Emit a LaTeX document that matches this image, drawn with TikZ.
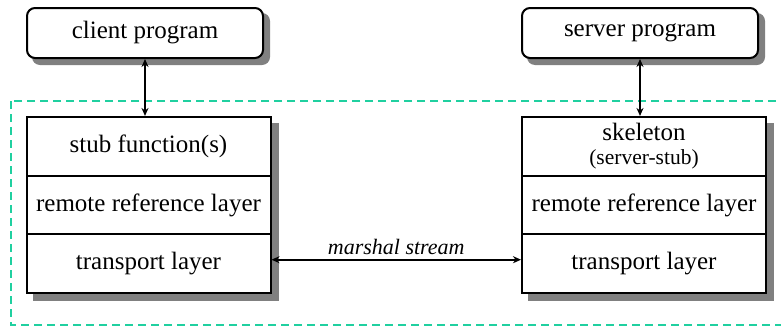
\documentclass[tikz,border=0pt]{standalone}
\usepackage{fontspec}
\setmainfont{Liberation Serif}
\usetikzlibrary{arrows.meta,backgrounds}
\definecolor{dashteal}{RGB}{32,208,160}
\definecolor{shadowgray}{RGB}{128,128,128}
\begin{document}
\begin{tikzpicture}[x=1pt,y=-1pt,
  prog/.style={draw, line width=2pt, rounded corners=8pt, fill=white,
    minimum width=236pt, minimum height=50pt, inner sep=0pt,
    font=\fontsize{25}{30}\selectfont},
  layer/.style={draw, line width=2pt, fill=white, align=center,
    minimum width=244pt, minimum height=58.7pt, inner sep=0pt,
    font=\fontsize{25}{27}\selectfont},
  link/.style={line width=2pt, {Stealth[length=8pt,width=7pt]}-{Stealth[length=8pt,width=7pt]}},
  shadowfill/.style={fill=shadowgray},
  frame/.style={draw=dashteal, line width=2pt, dash pattern=on 8pt off 5pt}]

\useasboundingbox (0,0) rectangle (781,327);

% dashed frame of the middleware, running off the right edge
\begin{scope}
  \clip (0,0) rectangle (781,327);
  \draw[frame] (11,101) rectangle (800,325);
\end{scope}

% application programs
\node[prog] (client) at (145,33) {client program};
\node[prog] (server) at (640,33) {server program};

% client-side layer stack
\node[layer] (stub)   at (148.5,146.3) {stub function(s)};
\node[layer] (cref)   at (148.5,205)   {remote reference layer};
\node[layer] (ctrans) at (148.5,263.7) {transport layer};

% server-side layer stack
\node[layer] (skel)   at (644,146.3) {skeleton\\[-3pt]{\fontsize{21.5}{24}\selectfont (server-stub)}};
\node[layer] (sref)   at (644,205)   {remote reference layer};
\node[layer] (strans) at (644,263.7) {transport layer};

% drop shadows
\begin{scope}[on background layer]
  \fill[shadowfill] ([shift={(6,6)}]client.north west) [rounded corners=8pt] rectangle ([shift={(6,6)}]client.south east);
  \fill[shadowfill] ([shift={(6,6)}]server.north west) [rounded corners=8pt] rectangle ([shift={(6,6)}]server.south east);
  \fill[shadowfill] ([shift={(7,7)}]stub.north west) rectangle ([shift={(7,7)}]ctrans.south east);
  \fill[shadowfill] ([shift={(7,7)}]skel.north west) rectangle ([shift={(7,7)}]strans.south east);
\end{scope}

% connectors
\draw[link] (client.south) -- (client.south |- stub.north);
\draw[link] (server.south) -- (server.south |- skel.north);
\draw[link] ([yshift=4pt]ctrans.east) -- node[above=1pt, font=\fontsize{22}{26}\selectfont\itshape] {marshal stream} ([yshift=4pt]strans.west);
\end{tikzpicture}
\end{document}
